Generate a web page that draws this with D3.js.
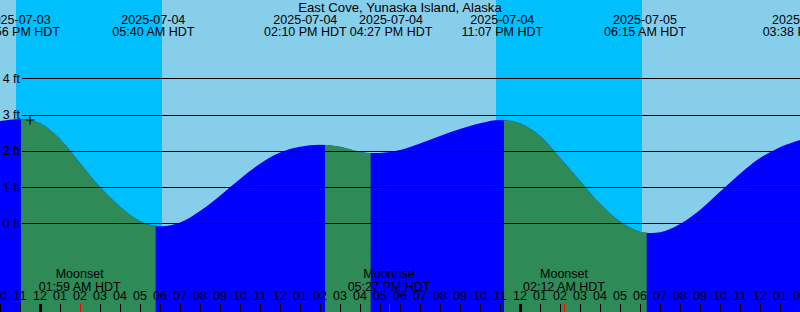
<!DOCTYPE html>
<html>
<head>
<meta charset="utf-8">
<script src="https://cdn.jsdelivr.net/npm/d3@7"></script>
<style>
  html, body { margin: 0; padding: 0; background: #fff; }
  svg text { font-family: "Liberation Sans", Arial, sans-serif; font-size: 12.5px; fill: #000; }
  svg text.title { font-size: 13.2px; }
</style>
</head>
<body>
<svg id="chart" width="800" height="312"></svg>
<script>
// Tide graph, East Cove, Yunaska Island (times in HDT)
const title = 'East Cove, Yunaska Island, Alaska';
const windowStart = '2025-07-03 22:00';
const windowEnd = '2025-07-05 14:00';

// hourly tide level (ft), starting at windowStart
const levels = [
  2.82, 2.87, 2.76, 2.32, 1.66, 1.00, 0.46, 0.06, -0.08, 0.02,
  0.34, 0.76, 1.22, 1.64, 1.95, 2.11, 2.17, 2.11, 1.97, 1.94,
  2.02, 2.20, 2.41, 2.60, 2.76, 2.85, 2.75, 2.41, 1.80, 1.17,
  0.54, 0.05, -0.23, -0.25, -0.02, 0.37, 0.87, 1.37, 1.80, 2.10,
  2.30
];

// high / low tides
const extremeTimes = ['2025-07-03 22:56', '2025-07-04 05:40', '2025-07-04 14:10',
  '2025-07-04 16:27', '2025-07-04 23:07', '2025-07-05 06:15', '2025-07-05 15:38'];
const extremeTypes = ['high', 'low', 'high', 'low', 'high', 'low', 'high'];

// night spans (sunset -> sunrise)
const nightStarts = ['2025-07-03 22:48', '2025-07-04 22:48'];
const nightEnds = ['2025-07-04 06:06', '2025-07-05 06:06'];

// moon events
const moonTimes = ['2025-07-04 01:59', '2025-07-04 17:27', '2025-07-05 02:12'];
const moonEvents = ['Moonset', 'Moonrise', 'Moonset'];

// "+" mark
const markTime = '2025-07-03 23:30';
const markLevel = 2.85;

const gridLevels = [0, 1, 2, 3, 4];

const colors = {
  day: '#87ceeb',
  night: '#00bfff',
  rise: '#0000ff',
  fall: '#2e8b57',
  moon: '#ff0000'
};

const width = 800;
const height = 312;

const parse = d3.timeParse('%Y-%m-%d %H:%M');
const t0 = parse(windowStart);
const t1 = parse(windowEnd);

const samples = levels.map((v, i) => ({ t: d3.timeHour.offset(t0, i), v }));
const extremes = extremeTimes.map((s, i) => ({ t: parse(s), type: extremeTypes[i] }));

const x = d3.scaleTime().domain([t0, t1]).range([0, width]);
const y = d3.scaleLinear().domain([0, 4]).range([223.3, 78.3]);

const svg = d3.select('#chart');

// background: day, then night bands
svg.append('rect')
  .attr('width', width)
  .attr('height', height)
  .style('fill', colors.day);

svg.append('g').selectAll('rect')
  .data(nightStarts.map((s, i) => [parse(s), parse(nightEnds[i])]))
  .join('rect')
  .attr('x', d => x(d[0]))
  .attr('width', d => x(d[1]) - x(d[0]))
  .attr('y', 0)
  .attr('height', height)
  .style('fill', colors.night);

// water
const area = d3.area()
  .x(d => x(d.t))
  .y0(height)
  .y1(d => y(d.v))
  .curve(d3.curveCatmullRom.alpha(0.5));

svg.append('path')
  .datum(samples)
  .attr('d', area)
  .style('fill', colors.rise);

// falling tide (high -> next low) in green
const falling = [];
extremes.forEach((e, i) => {
  if (e.type === 'high' && extremes[i + 1]) falling.push([e.t, extremes[i + 1].t]);
});

const clip = svg.append('clipPath').attr('id', 'falling');
clip.selectAll('rect')
  .data(falling)
  .join('rect')
  .attr('x', d => Math.round(x(d[0])) + 2)
  .attr('width', d => x(d[1]) - x(d[0]))
  .attr('y', 0)
  .attr('height', height);

svg.append('path')
  .datum(samples)
  .attr('d', area)
  .attr('clip-path', 'url(#falling)')
  .style('fill', colors.fall);

// level grid
const grid = svg.append('g');
grid.selectAll('line')
  .data(gridLevels)
  .join('line')
  .attr('x1', 22)
  .attr('x2', width)
  .attr('y1', d => Math.round(y(d)) + 0.5)
  .attr('y2', d => Math.round(y(d)) + 0.5)
  .style('stroke', '#000')
  .style('stroke-width', 1);

grid.selectAll('text')
  .data(gridLevels)
  .join('text')
  .attr('x', 20)
  .attr('y', d => y(d) + 4.5)
  .attr('text-anchor', 'end')
  .text(d => `${d} ft`);

// "+" mark
const mx = x(parse(markTime));
const my = y(markLevel);
svg.append('path')
  .attr('d', `M${mx - 4.5},${my}H${mx + 4.5}M${mx},${my - 4.5}V${my + 4.5}`)
  .style('stroke', '#000')
  .style('stroke-width', 1.2)
  .style('fill', 'none');

// title
svg.append('text')
  .attr('class', 'title')
  .attr('x', width / 2)
  .attr('y', 11.5)
  .attr('text-anchor', 'middle')
  .text(title);

// extreme labels, pushed apart where they collide
const fmtDate = d3.timeFormat('%Y-%m-%d');
const fmtTime = d3.timeFormat('%I:%M %p HDT');

const topLabels = svg.append('g');
const labels = extremes.map(e => {
  const g = topLabels.append('g');
  g.append('text').attr('y', 23.5).attr('text-anchor', 'middle').text(fmtDate(e.t));
  g.append('text').attr('y', 36).attr('text-anchor', 'middle').text(fmtTime(e.t));
  const w = d3.max(g.selectAll('text').nodes(), n => n.getComputedTextLength());
  return { g, w, cx: Math.min(x(e.t), width + 4) };
});

for (let i = 0; i + 1 < labels.length; i++) {
  const a = labels[i];
  const b = labels[i + 1];
  const need = (a.w + b.w) / 2 + 3;
  if (b.cx - a.cx < need) {
    const mid = (a.cx + b.cx) / 2 + 2;
    a.cx = mid - need / 2;
    b.cx = mid + need / 2;
  }
}
labels.forEach(l => l.g.attr('transform', `translate(${l.cx},0)`));

// moon events
const moon = svg.append('g');
moonTimes.forEach((s, i) => {
  const t = parse(s);
  const g = moon.append('g').attr('transform', `translate(${x(t)},0)`);
  g.append('text').attr('y', 278).attr('text-anchor', 'middle').text(moonEvents[i]);
  g.append('text').attr('y', 290.5).attr('text-anchor', 'middle').text(fmtTime(t));
});

// hour axis
const hours = d3.timeHour.range(t0, d3.timeHour.offset(t1, 1));
const axis = svg.append('g');

axis.selectAll('text')
  .data(hours)
  .join('text')
  .attr('x', d => x(d))
  .attr('y', 299.5)
  .attr('text-anchor', 'middle')
  .text(d3.timeFormat('%I'));

axis.selectAll('line.hour')
  .data(hours)
  .join('line')
  .attr('class', 'hour')
  .attr('x1', d => Math.round(x(d)) + 0.5)
  .attr('x2', d => Math.round(x(d)) + 0.5)
  .attr('y1', 304)
  .attr('y2', height)
  .style('stroke', '#000')
  .style('stroke-width', d => d.getHours() === 0 ? 3 : 1);

axis.selectAll('line.moon')
  .data(moonTimes.map(parse))
  .join('line')
  .attr('class', 'moon')
  .attr('x1', d => Math.round(x(d)) + 0.5)
  .attr('x2', d => Math.round(x(d)) + 0.5)
  .attr('y1', 304)
  .attr('y2', height)
  .style('stroke', colors.moon)
  .style('stroke-width', 1);
</script>
</body>
</html>
